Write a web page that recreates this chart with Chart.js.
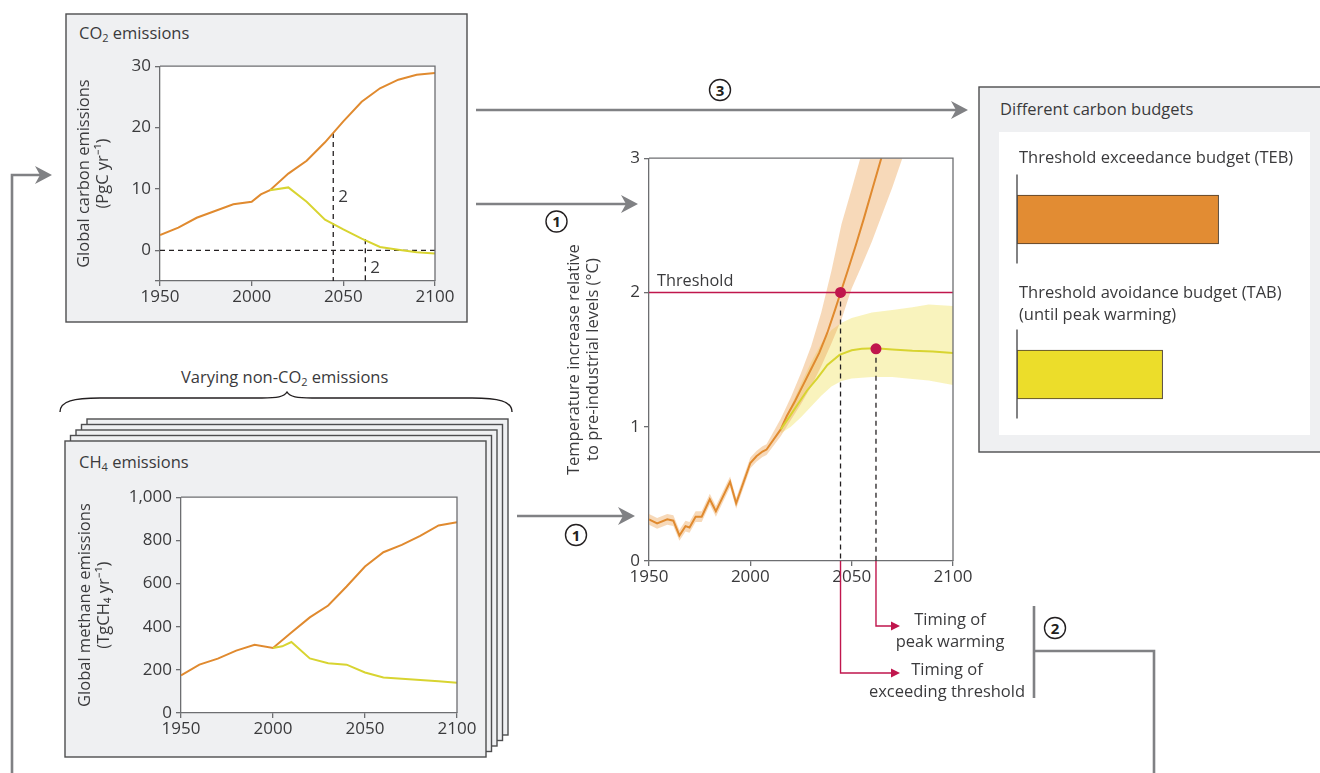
<!DOCTYPE html>
<html>
<head>
<meta charset="utf-8">
<script src="https://cdn.jsdelivr.net/npm/chart.js@4.4.1/dist/chart.umd.min.js"></script>
<style>
  body { margin: 0; width: 1320px; height: 773px; position: relative; overflow: hidden; background: #fff;
         font-family: "Open Sans", sans-serif; color: #3a3a3c; }
  svg { position: absolute; left: 0; top: 0; }
  canvas { position: absolute; }
  .t { position: absolute; white-space: nowrap; font-size: 16.5px; line-height: 20px; }
  .t sub { font-size: 11px; line-height: 0; vertical-align: -3px; }
  .c { text-align: center; width: 180px; line-height: 22px; }
</style>
</head>
<body>

<svg width="1320" height="773">
  <defs>
    <path id="head" d="M0,0 L-17,-9 L-12,0 L-17,9 Z" fill="#808184"/>
  </defs>
  <!-- CO2 panel -->
  <rect x="66" y="14" width="401" height="308" fill="#eff0f2" stroke="#4d4d4f" stroke-width="1.4"/>
  <!-- stacked non-CO2 panels -->
  <rect x="87" y="419" width="421" height="316" fill="#eff0f2" stroke="#4d4d4f" stroke-width="1.4"/>
  <rect x="81.5" y="424.5" width="421" height="316" fill="#eff0f2" stroke="#4d4d4f" stroke-width="1.4"/>
  <rect x="76" y="430" width="421" height="316" fill="#eff0f2" stroke="#4d4d4f" stroke-width="1.4"/>
  <rect x="70.5" y="435.5" width="421" height="316" fill="#eff0f2" stroke="#4d4d4f" stroke-width="1.4"/>
  <rect x="65" y="441" width="421" height="316" fill="#eff0f2" stroke="#4d4d4f" stroke-width="1.4"/>
  <path d="M60,412 C60,401 74,398 100,398 L262,398 C277,398 284,397 287,392 C290,397 297,398 312,398 L472,398 C498,398 512,401 512,412"
        fill="none" stroke="#231f20" stroke-width="1.4"/>
  <!-- budgets panel -->
  <rect x="979" y="87" width="360" height="365" fill="#eff0f2" stroke="#4d4d4f" stroke-width="1.4"/>
  <rect x="999" y="132" width="311" height="303" fill="#fff"/>

  <!-- arrows -->
  <g stroke="#808184" stroke-width="2.6" fill="none">
    <path d="M476,110 H958"/>
    <path d="M476,204 H628"/>
    <path d="M517,516 H625"/>
    <path d="M12,773 V175 H42"/>
    <path d="M1034,606 V698 M1034,651 H1154 V773"/>
  </g>
  <use href="#head" transform="translate(968,110)"/>
  <use href="#head" transform="translate(638,204)"/>
  <use href="#head" transform="translate(635,516)"/>
  <use href="#head" transform="translate(52,175)"/>

  <!-- circled step numbers -->
  <g fill="#fff" stroke="#231f20" stroke-width="1.4">
    <circle cx="720" cy="90" r="10.5"/>
    <circle cx="556.5" cy="221.5" r="10.5"/>
    <circle cx="576" cy="535" r="10.5"/>
    <circle cx="1055" cy="628" r="10.5"/>
  </g>
  <g font-family="Open Sans, sans-serif" font-weight="700" font-size="15" fill="#231f20" text-anchor="middle">
    <text x="720" y="95.5">3</text>
    <text x="556.5" y="227">1</text>
    <text x="576" y="540.5">1</text>
    <text x="1055" y="633.5">2</text>
  </g>
</svg>

<canvas id="co2Chart" width="389" height="264" style="left:70px;top:52px"></canvas>
<canvas id="ch4Chart" width="410" height="265" style="left:71px;top:483px"></canvas>
<canvas id="tempChart" width="417" height="544" style="left:560px;top:144px"></canvas>
<canvas id="budgetChart" width="300" height="330" style="left:1007px;top:132px"></canvas>

<div class="t" style="left:79px;top:23px">CO<sub>2</sub> emissions</div>
<div class="t" style="left:79px;top:452px">CH<sub>4</sub> emissions</div>
<div class="t" style="left:181px;top:367px">Varying non-CO<sub>2</sub> emissions</div>
<div class="t" style="left:1000px;top:99px">Different carbon budgets</div>
<div class="t" style="left:1019px;top:147px">Threshold exceedance budget (TEB)</div>
<div class="t" style="left:1019px;top:281px;line-height:21.8px">Threshold avoidance budget (TAB)<br>(until peak warming)</div>
<div class="t c" style="left:860px;top:608px">Timing of<br>peak warming</div>
<div class="t c" style="left:857px;top:658px">Timing of<br>exceeding threshold</div>

<script>
// ---- data ----
const co2Years = [1950, 1960, 1970, 1980, 1990, 2000, 2005, 2010, 2020, 2030, 2040, 2050, 2060, 2070, 2080, 2090, 2100];
const co2High = [2.5, 3.7, 5.3, 6.4, 7.5, 7.9, 9.1, 9.8, 12.5, 14.6, 17.6, 21.0, 24.2, 26.4, 27.8, 28.6, 28.9];
const co2LowYears = [2010, 2020, 2030, 2040, 2050, 2060, 2070, 2080, 2090, 2100];
const co2Low = [9.8, 10.25, 7.9, 5.0, 3.4, 1.9, 0.55, 0.1, -0.3, -0.5];

const ch4Years = [1950, 1960, 1970, 1980, 1990, 2000, 2010, 2020, 2030, 2040, 2050, 2060, 2070, 2080, 2090, 2100];
const ch4High = [174, 224, 252, 289, 316, 301, 373, 443, 498, 586, 679, 745, 779, 821, 869, 884];
const ch4LowYears = [2000, 2005, 2010, 2020, 2030, 2040, 2050, 2060, 2070, 2080, 2090, 2100];
const ch4Low = [301, 309, 329, 253, 231, 224, 188, 165, 159, 153, 147, 140];

const tempYears = [1950, 1954, 1959, 1962, 1965, 1968, 1970, 1973, 1976, 1980, 1983, 1990, 1993, 2000, 2003, 2006, 2008,
                   2015, 2018, 2022, 2026, 2030, 2034, 2038, 2042, 2045, 2048, 2052, 2056, 2060, 2065, 2070];
const tempHigh = [0.31, 0.28, 0.31, 0.30, 0.19, 0.26, 0.25, 0.33, 0.33, 0.46, 0.37, 0.59, 0.43, 0.73, 0.78, 0.815, 0.83,
                  0.98, 1.08, 1.19, 1.31, 1.43, 1.55, 1.70, 1.88, 2.02, 2.16, 2.35, 2.55, 2.76, 3.02, 3.30];
const highBandYears = [1950, 1954, 1959, 1962, 1965, 1968, 1970, 1973, 1976, 1980, 1983, 1990, 1993, 2000, 2003, 2006, 2008,
                       2015, 2020, 2025, 2030, 2035, 2040, 2045, 2050, 2055, 2060, 2065, 2070, 2075, 2080];
const highBandUpper = [0.35, 0.32, 0.35, 0.34, 0.23, 0.30, 0.29, 0.37, 0.37, 0.50, 0.41, 0.63, 0.47, 0.77, 0.82, 0.855, 0.87,
                       1.06, 1.22, 1.40, 1.60, 1.85, 2.16, 2.51, 2.77, 3.04, 3.35, 3.65, 3.95, 4.2, 4.5];
const highBandLower = [0.27, 0.24, 0.27, 0.26, 0.15, 0.22, 0.21, 0.29, 0.29, 0.42, 0.33, 0.55, 0.39, 0.69, 0.74, 0.775, 0.79,
                       0.93, 1.05, 1.17, 1.30, 1.45, 1.62, 1.80, 2.03, 2.20, 2.38, 2.58, 2.78, 3.00, 3.20];

const tempLowYears = [2015, 2020, 2024, 2028, 2033, 2038, 2044, 2050, 2055, 2062, 2070, 2080, 2090, 2100];
const tempLow = [0.98, 1.09, 1.18, 1.27, 1.36, 1.46, 1.535, 1.57, 1.58, 1.585, 1.575, 1.565, 1.56, 1.55];
const lowBandYears = [2015, 2020, 2025, 2030, 2035, 2040, 2045, 2050, 2055, 2060, 2070, 2080, 2088, 2100];
const lowBandUpper = [1.0, 1.15, 1.32, 1.48, 1.62, 1.72, 1.775, 1.81, 1.83, 1.85, 1.87, 1.89, 1.91, 1.90];
const lowBandLower = [0.95, 1.0, 1.07, 1.15, 1.23, 1.30, 1.34, 1.36, 1.365, 1.37, 1.37, 1.355, 1.345, 1.31];

const thresholdTemp = 2;
const timingYears = [2044.5, 2062];      // exceeding threshold, peak warming
const timingTemps = [2.0, 1.58];
const co2AtTiming = [19.1, 1.8];
const co2MarkLabelY = [8.7, -2.9];

const budgetLabels = ['TEB', 'TAB'];
const budgetValues = [72, 52];

const yearTicks = [1950, 2000, 2050, 2100];

// ---- styles ----
const ORANGE = '#e08a2f';
const YELLOW = '#d8d431';
const CRIMSON = '#c0164d';
const AXIS = '#6d6e71';
const TEXT = '#3a3a3c';
const FONT = '"Open Sans", sans-serif';

Chart.defaults.font.family = FONT;
Chart.defaults.color = TEXT;
Chart.defaults.animation = false;
Chart.defaults.plugins.legend.display = false;
Chart.defaults.plugins.tooltip.enabled = false;

const pts = (xs, ys) => xs.map((x, i) => ({ x: x, y: ys[i] }));

const plotBox = {
  id: 'plotBox',
  beforeDraw(chart, args, opts) {
    if (!opts.fill) return;
    const { ctx, chartArea: a } = chart;
    ctx.save();
    ctx.fillStyle = '#fff';
    ctx.fillRect(a.left, a.top, a.width, a.height);
    ctx.restore();
  },
  afterDatasetsDraw(chart) {
    const { ctx, chartArea: a } = chart;
    ctx.save();
    ctx.strokeStyle = AXIS;
    ctx.lineWidth = 1.3;
    ctx.beginPath();
    ctx.moveTo(a.left, a.top);
    ctx.lineTo(a.right, a.top);
    ctx.lineTo(a.right, a.bottom);
    ctx.stroke();
    ctx.restore();
  }
};

function xAxis() {
  return {
    type: 'linear', min: 1950, max: 2100,
    afterBuildTicks: s => { s.ticks = yearTicks.map(v => ({ value: v })); },
    afterFit: s => { s.height = 35; },
    ticks: { font: { size: 17 }, padding: 1, color: TEXT, callback: v => String(v) },
    grid: { drawOnChartArea: false, color: AXIS, tickLength: 5, lineWidth: 1.3 },
    border: { color: AXIS, width: 1.3 }
  };
}

function yAxis(min, max, tickValues, width, title, fmt) {
  return {
    min: min, max: max,
    afterBuildTicks: s => { s.ticks = tickValues.map(v => ({ value: v })); },
    afterFit: s => { s.width = width; },
    ticks: { font: { size: 17 }, padding: 4, color: TEXT, callback: fmt },
    grid: { drawOnChartArea: false, color: AXIS, tickLength: 5, lineWidth: 1.3 },
    border: { color: AXIS, width: 1.3 },
    title: { display: true, text: title, color: TEXT, font: { size: 16.5, lineHeight: 1.15 }, padding: { top: 5, bottom: 0 } }
  };
}

function line(data, color, width, extra) {
  return Object.assign({ data: data, borderColor: color, borderWidth: width, pointRadius: 0, tension: 0, fill: false }, extra || {});
}

// ---- CO2 emissions ----
const co2Marks = {
  id: 'co2Marks',
  afterDatasetsDraw(chart) {
    const { ctx, scales: { x, y } } = chart;
    ctx.save();
    ctx.fillStyle = TEXT;
    ctx.font = '17px ' + FONT;
    ctx.textBaseline = 'middle';
    timingYears.forEach((yr, i) => ctx.fillText('2', x.getPixelForValue(yr) + 5, y.getPixelForValue(co2MarkLabelY[i])));
    ctx.restore();
  }
};

new Chart(document.getElementById('co2Chart'), {
  type: 'line',
  data: {
    datasets: [
      line(pts(co2LowYears, co2Low), YELLOW, 2),
      line(pts(co2Years, co2High), ORANGE, 2),
      line([{ x: 1950, y: 0 }, { x: 2100, y: 0 }], '#231f20', 1.3, { borderDash: [5, 4] }),
      line([{ x: timingYears[0], y: co2AtTiming[0] }, { x: timingYears[0], y: -5 }], '#231f20', 1.3, { borderDash: [5, 4] }),
      line([{ x: timingYears[1], y: co2AtTiming[1] }, { x: timingYears[1], y: -5 }], '#231f20', 1.3, { borderDash: [5, 4] })
    ]
  },
  options: {
    responsive: false,
    layout: { padding: { top: 14, right: 24 } },
    scales: {
      x: xAxis(),
      y: yAxis(-5, 30, [-5, 0, 10, 20, 30], 90, ['Global carbon emissions', '(PgC yr\u207B\u00B9)'], v => v === -5 ? '' : v)
    },
    plugins: { plotBox: { fill: true } }
  },
  plugins: [plotBox, co2Marks]
});

// ---- CH4 emissions ----
new Chart(document.getElementById('ch4Chart'), {
  type: 'line',
  data: {
    datasets: [
      line(pts(ch4LowYears, ch4Low), YELLOW, 2),
      line(pts(ch4Years, ch4High), ORANGE, 2)
    ]
  },
  options: {
    responsive: false,
    layout: { padding: { top: 14, right: 24 } },
    scales: {
      x: xAxis(),
      y: yAxis(0, 1000, [0, 200, 400, 600, 800, 1000], 110, ['Global methane emissions', '(TgCH\u2084 yr\u207B\u00B9)'],
               v => v.toLocaleString('en-US'))
    },
    plugins: { plotBox: { fill: true } }
  },
  plugins: [plotBox]
});

// ---- temperature response ----
const timingConnectors = {
  id: 'timingConnectors',
  afterDraw(chart) {
    const { ctx, scales: { x, y } } = chart;
    const base = y.getPixelForValue(0);
    const tipX = x.right - 53;
    const drops = [112, 65];
    ctx.save();
    ctx.strokeStyle = CRIMSON;
    ctx.fillStyle = CRIMSON;
    ctx.lineWidth = 1.4;
    timingYears.forEach((yr, i) => {
      const px = x.getPixelForValue(yr);
      const py = base + drops[i];
      ctx.beginPath();
      ctx.moveTo(px, base);
      ctx.lineTo(px, py);
      ctx.lineTo(tipX - 8, py);
      ctx.stroke();
      ctx.beginPath();
      ctx.moveTo(tipX, py);
      ctx.lineTo(tipX - 9, py - 4.5);
      ctx.lineTo(tipX - 9, py + 4.5);
      ctx.closePath();
      ctx.fill();
    });
    ctx.fillStyle = TEXT;
    ctx.font = '16.3px ' + FONT;
    ctx.textBaseline = 'alphabetic';
    ctx.fillText('Threshold', x.left + 8, y.getPixelForValue(thresholdTemp) - 6);
    ctx.restore();
  }
};

new Chart(document.getElementById('tempChart'), {
  type: 'line',
  data: {
    datasets: [
      line(pts(timingYears, timingTemps), CRIMSON, 0, { showLine: false, pointRadius: 5.5, pointBackgroundColor: CRIMSON, pointBorderWidth: 0, order: 0 }),
      line([{ x: timingYears[0], y: timingTemps[0] }, { x: timingYears[0], y: 0 }], '#231f20', 1.3, { borderDash: [5, 4], order: 1 }),
      line([{ x: timingYears[1], y: timingTemps[1] }, { x: timingYears[1], y: 0 }], '#231f20', 1.3, { borderDash: [5, 4], order: 1 }),
      line([{ x: 1950, y: thresholdTemp }, { x: 2100, y: thresholdTemp }], CRIMSON, 1.5, { order: 2 }),
      line(pts(tempLowYears, tempLow), YELLOW, 2, { order: 3 }),
      line(pts(tempYears, tempHigh), ORANGE, 2, { order: 4 }),
      line(pts(highBandYears, highBandUpper), 'transparent', 0, { fill: '+1', backgroundColor: 'rgba(238,170,100,0.45)', order: 5 }),
      line(pts(highBandYears, highBandLower), 'transparent', 0, { order: 5 }),
      line(pts(lowBandYears, lowBandUpper), 'transparent', 0, { fill: '+1', backgroundColor: 'rgba(240,226,90,0.4)', order: 6 }),
      line(pts(lowBandYears, lowBandLower), 'transparent', 0, { order: 6 })
    ]
  },
  options: {
    responsive: false,
    layout: { padding: { top: 14, right: 24, bottom: 92 } },
    scales: {
      x: xAxis(),
      y: yAxis(0, 3, [0, 1, 2, 3], 89, ['Temperature increase relative', 'to pre-industrial levels (\u00B0C)'], v => v)
    },
    plugins: { plotBox: { fill: false } }
  },
  plugins: [plotBox, timingConnectors]
});

// ---- carbon budgets ----
const budgetBase = {
  id: 'budgetBase',
  afterDatasetsDraw(chart) {
    const { ctx } = chart;
    const x0 = chart.scales.x.getPixelForValue(0);
    ctx.save();
    ctx.strokeStyle = '#4d4d4f';
    ctx.lineWidth = 1.4;
    chart.getDatasetMeta(0).data.forEach(bar => {
      ctx.beginPath();
      ctx.moveTo(x0, bar.y - 45);
      ctx.lineTo(x0, bar.y + 44);
      ctx.stroke();
    });
    ctx.restore();
  }
};

new Chart(document.getElementById('budgetChart'), {
  type: 'bar',
  data: {
    labels: budgetLabels,
    datasets: [{
      data: budgetValues,
      backgroundColor: ['#e28c33', '#ecdd2a'],
      borderColor: '#4a3b2c',
      borderWidth: 1,
      borderSkipped: false,
      barThickness: 49
    }]
  },
  options: {
    responsive: false,
    indexAxis: 'y',
    layout: { padding: 10 },
    scales: {
      x: { display: false, min: 0, max: 100 },
      y: { display: false }
    }
  },
  plugins: [budgetBase]
});
</script>
</body>
</html>
